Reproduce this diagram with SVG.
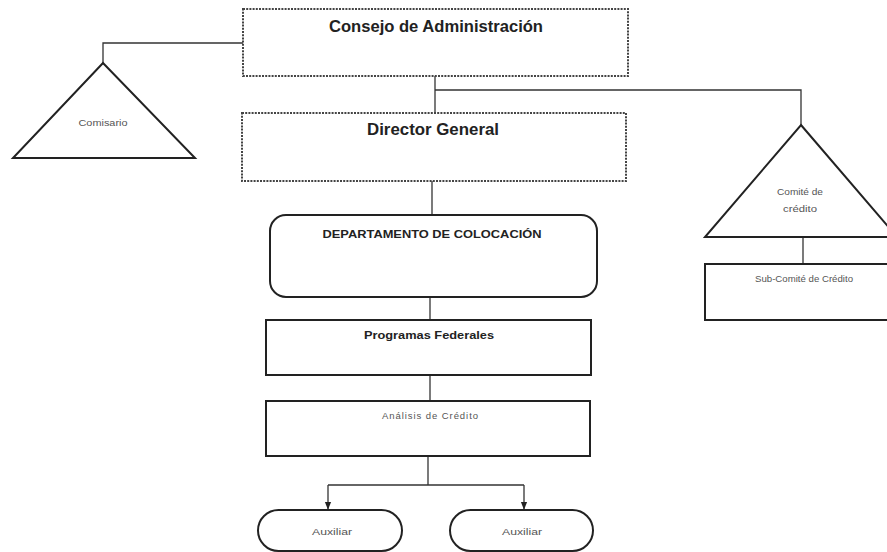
<svg xmlns="http://www.w3.org/2000/svg" width="887" height="552" viewBox="0 0 887 552">
<defs>
<style>
.dot{fill:none;stroke:#444;stroke-width:2;stroke-dasharray:2 1.2}
.box{fill:none;stroke:#222;stroke-width:2}
.con{fill:none;stroke:#333;stroke-width:1.3}
.t1{font-family:"Liberation Sans",Arial,sans-serif;font-weight:bold;font-size:16.5px;fill:#222;text-anchor:middle}
.t2{font-family:"Liberation Sans",Arial,sans-serif;font-weight:bold;font-size:11px;fill:#222;text-anchor:middle}
.t3{font-family:"Liberation Sans",Arial,sans-serif;font-size:9.5px;fill:#555;text-anchor:middle}
</style>
<marker id="arr" viewBox="0 0 10 10" refX="9" refY="5" markerWidth="6" markerHeight="6" orient="auto">
<path d="M0,1 L10,5 L0,9 z" fill="#222"/>
</marker>
</defs>
<rect width="887" height="552" fill="#fff"/>
<g id="connectors">
<polyline class="con" points="243,43 103,43 103,63"/>
<line class="con" x1="435" y1="76" x2="435" y2="113"/>
<polyline class="con" points="435,90 801,90 801,125"/>
<line class="con" x1="432" y1="181" x2="432" y2="215"/>
<line class="con" x1="803" y1="237" x2="803" y2="264"/>
<line class="con" x1="430" y1="297" x2="430" y2="320"/>
<line class="con" x1="430" y1="375" x2="430" y2="401"/>
<line class="con" x1="428" y1="456" x2="428" y2="485"/>
<line class="con" x1="328" y1="485" x2="524" y2="485"/>
<line class="con" x1="328" y1="485" x2="328" y2="509" marker-end="url(#arr)"/>
<line class="con" x1="524" y1="485" x2="524" y2="509" marker-end="url(#arr)"/>
</g>
<g id="consejo">
<rect class="dot" x="243" y="9" width="385" height="67"/>
<text class="t1" x="436" y="32" textLength="214" lengthAdjust="spacingAndGlyphs">Consejo de Administración</text>
</g>
<g id="director">
<rect class="dot" x="242" y="113" width="384" height="68"/>
<text class="t1" x="433" y="135" textLength="132" lengthAdjust="spacingAndGlyphs">Director General</text>
</g>
<g id="comisario">
<polygon class="box" points="103,63 195,158 13,158"/>
<text class="t3" x="103" y="126" textLength="49" lengthAdjust="spacingAndGlyphs">Comisario</text>
</g>
<g id="comite">
<polygon class="box" points="801,125 897,237 705,237"/>
<text class="t3" x="800" y="195" textLength="46" lengthAdjust="spacingAndGlyphs">Comité de</text>
<text class="t3" x="800" y="212" textLength="34" lengthAdjust="spacingAndGlyphs">crédito</text>
</g>
<g id="subcomite">
<rect class="box" x="705" y="264" width="200" height="56"/>
<text class="t3" x="804" y="282" textLength="98" lengthAdjust="spacingAndGlyphs">Sub-Comité de Crédito</text>
</g>
<g id="departamento">
<rect class="box" x="270" y="215" width="327" height="82" rx="16" ry="16"/>
<text class="t2" x="432" y="238" textLength="219" lengthAdjust="spacingAndGlyphs">DEPARTAMENTO DE COLOCACIÓN</text>
</g>
<g id="programas">
<rect class="box" x="266" y="320" width="325" height="55"/>
<text class="t2" x="429" y="339" textLength="130" lengthAdjust="spacingAndGlyphs">Programas Federales</text>
</g>
<g id="analisis">
<rect class="box" x="266" y="401" width="324" height="55"/>
<text class="t3" x="430" y="419" textLength="96" lengthAdjust="spacing">Análisis de Crédito</text>
</g>
<g id="auxiliar1">
<rect class="box" x="258" y="510" width="144" height="41" rx="20.5" ry="20.5"/>
<text class="t3" x="332" y="535" textLength="40" lengthAdjust="spacingAndGlyphs">Auxiliar</text>
</g>
<g id="auxiliar2">
<rect class="box" x="450" y="510" width="143" height="41" rx="20.5" ry="20.5"/>
<text class="t3" x="522" y="535" textLength="40" lengthAdjust="spacingAndGlyphs">Auxiliar</text>
</g>
</svg>
